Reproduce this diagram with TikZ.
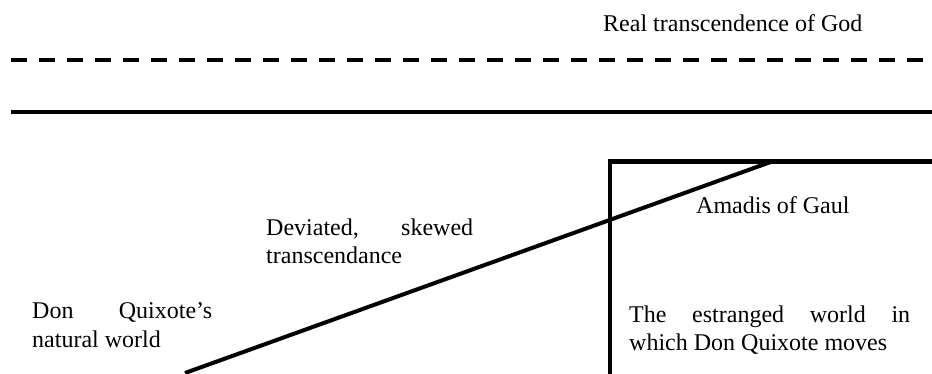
\documentclass[tikz,border=0pt]{standalone}
\usepackage{fontspec}
\setmainfont{Liberation Serif}
\begin{document}
\begin{tikzpicture}[x=1pt,y=1pt,
  lbl/.style={inner sep=0pt, anchor=base west, font=\fontsize{24}{28}\selectfont},
  thickline/.style={line width=4pt},
  boxline/.style={line width=4.6pt, line join=miter},
  dashline/.style={line width=4pt, dash pattern=on 16pt off 12pt}]
\useasboundingbox (0,0) rectangle (932,373);
% coordinates
\coordinate (dA) at (11,313);
\coordinate (dB) at (923,313);
\coordinate (sA) at (11,261);
\coordinate (sB) at (933,261);
\coordinate (bR) at (933,211.5);
\coordinate (bC) at (610,211.5);
\coordinate (bB) at (610,-2);
\coordinate (gA) at (185,0);
\coordinate (gB) at (772,211.5);
% lines
\draw[dashline] (dA) -- (dB);
\draw[thickline] (sA) -- (sB);
\draw[boxline] (bR) -- (bC) -- (bB);
\draw[thickline] (gA) -- (gB);
% texts
\node[lbl] (real) at (603,341) {Real transcendence of God};
\node[lbl] (amadis) at (696,159.5) {Amadis of Gaul};
\node[lbl] (dev1) at (266,138) {\makebox[207pt][s]{Deviated, skewed}};
\node[lbl] (dev2) at (266,110) {transcendance};
\node[lbl] (dq1) at (32,55) {\makebox[180pt][s]{Don Quixote’s}};
\node[lbl] (dq2) at (32,26) {natural world};
\node[lbl] (es1) at (629,51) {\makebox[281pt][s]{The estranged world in}};
\node[lbl] (es2) at (629,23) {which Don Quixote moves};
\end{tikzpicture}
\end{document}
